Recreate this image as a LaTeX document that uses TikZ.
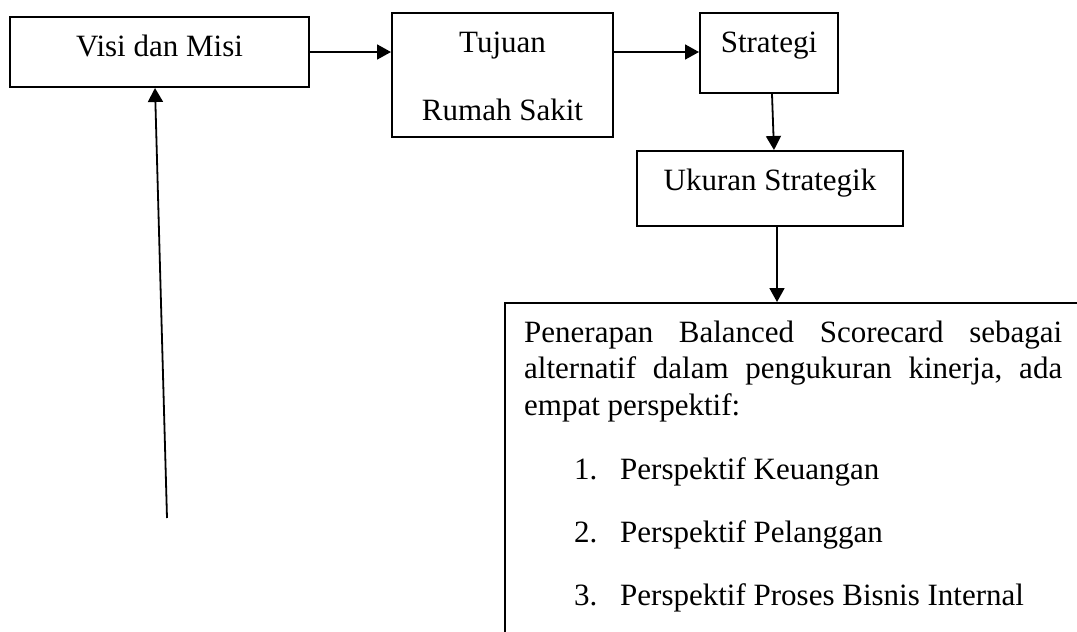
\documentclass[tikz,border=0pt]{standalone}
\usepackage{fontspec}
\setmainfont{Liberation Serif}
\usetikzlibrary{arrows.meta}

\tikzset{
  txt/.style={font=\fontsize{31}{36.5}\selectfont, inner sep=0pt, anchor=base},
  txtl/.style={txt, anchor=base west},
  box/.style={draw, line width=2pt, inner sep=0pt},
  conn/.style={line width=1.8pt, -{Triangle[length=14pt,width=15pt]}},
}

\begin{document}
\begin{tikzpicture}[x=1pt, y=-1pt]
\useasboundingbox (0,0) rectangle (1077,632);
\clip (0,0) rectangle (1077,632);

% boxes
\node[box, minimum width=299pt, minimum height=70pt]  (visi)     at (159.5,52)  {};
\node[box, minimum width=221pt, minimum height=124pt] (tujuan)   at (502.5,75)  {};
\node[box, minimum width=138pt, minimum height=80pt]  (strategi) at (769,53)    {};
\node[box, minimum width=266pt, minimum height=75pt]  (ukuran)   at (770,188.5) {};
\node[box, minimum width=615pt, minimum height=417pt] (bsc)      at (812.5,511.5) {};

% box labels
\node[txt] (visiT)    at (159.5,56) {Visi dan Misi};
\node[txt] (tujuanA)  at (502.5,52) {Tujuan};
\node[txt] (tujuanB)  at (502.5,120) {Rumah Sakit};
\node[txt] (strategiT) at (769,52) {Strategi};
\node[txt] (ukuranT)  at (770,190) {Ukuran Strategik};

% balanced scorecard text
\node[txtl] (p1) at (524,342) {\hbox to 538pt{Penerapan\hfill Balanced\hfill Scorecard\hfill sebagai}};
\node[txtl] (p2) at (524,378.5) {\hbox to 538pt{alternatif\hfill dalam\hfill pengukuran\hfill kinerja,\hfill ada}};
\node[txtl] (p3) at (524,415) {empat perspektif:};
\node[txtl] (n1) at (574,479) {1.};
\node[txtl] (i1) at (620,479) {Perspektif Keuangan};
\node[txtl] (n2) at (574,542) {2.};
\node[txtl] (i2) at (620,542) {Perspektif Pelanggan};
\node[txtl] (n3) at (574,605) {3.};
\node[txtl] (i3) at (620,605) {Perspektif Proses Bisnis Internal};

% connectors
\coordinate (src) at (167,518);
\draw[conn] (visi.east) -- (visi.east -| tujuan.west);
\draw[conn] (tujuan.east |- visi.east) -- (strategi.west |- visi.east);
\draw[conn] ([xshift=3pt]strategi.south) -- ([xshift=4pt]ukuran.north);
\draw[conn] ([xshift=7pt]ukuran.south) -- ([xshift=7pt]ukuran.south |- bsc.north);
\draw[conn] (src) -- ([xshift=-4.5pt]visi.south);
\end{tikzpicture}
\end{document}
